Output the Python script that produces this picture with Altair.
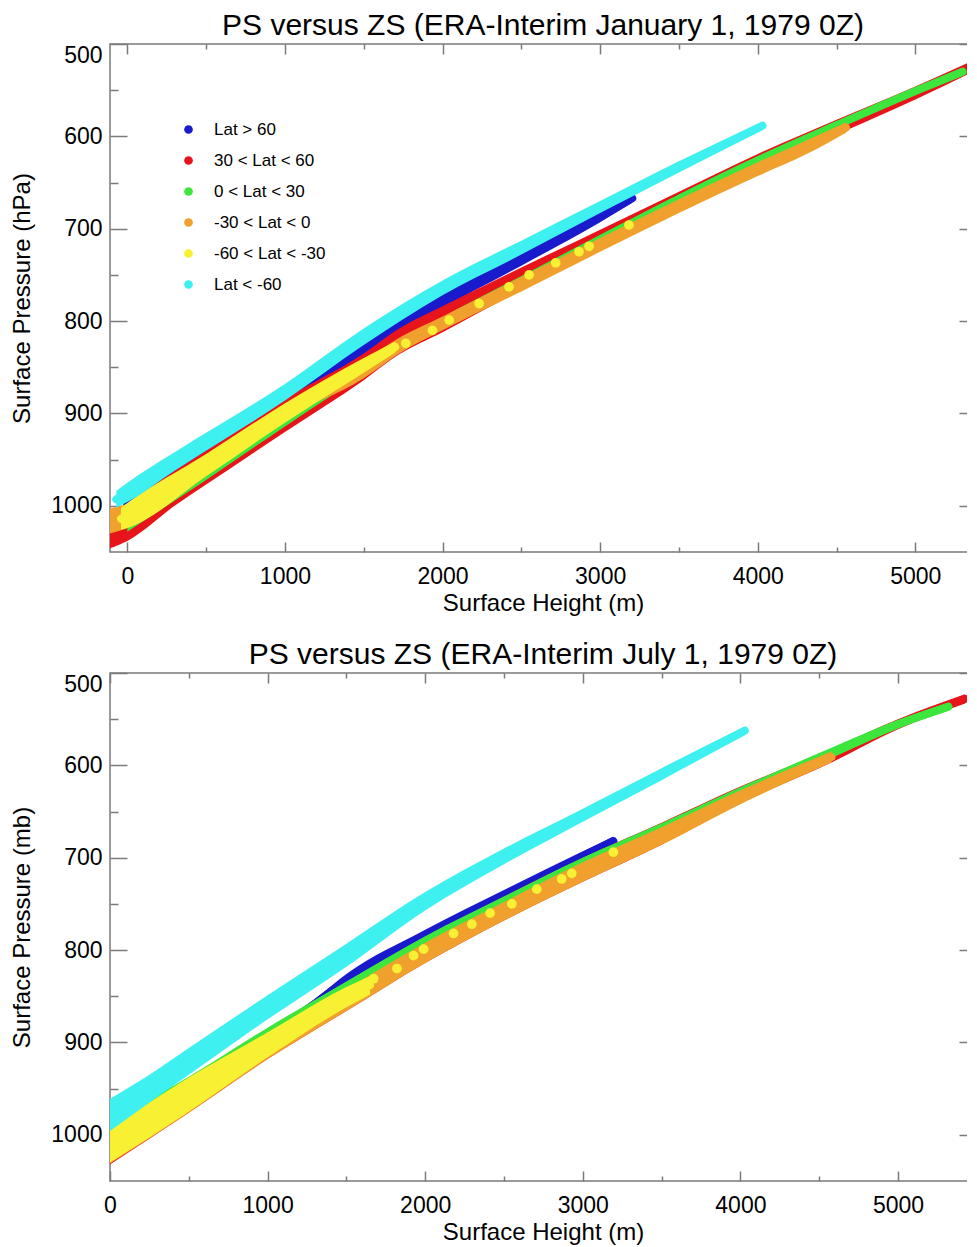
import altair as alt
import pandas as pd

FONT = "Liberation Sans"
SERIES = ["Lat > 60", "30 < Lat < 60", "0 < Lat < 30", "-30 < Lat < 0", "-60 < Lat < -30", "Lat < -60"]
COLORS = ["#1a1acd", "#e8141c", "#3ce63c", "#f0a02d", "#f8f032", "#3ef0f0"]

X_MAJOR = [0, 1000, 2000, 3000, 4000, 5000]
X_MINOR = [500, 1500, 2500, 3500, 4500]
Y_MAJOR = [500, 600, 700, 800, 900, 1000]
Y_MINOR = [550, 650, 750, 850, 950]

# ---------------- January 1, 1979 0Z : bands (height m, top / bottom of band in hPa)
JAN_BLUE_H = [0, 500, 1000, 1500, 2000, 2500, 3000, 3204]
JAN_BLUE_LO = [990, 934, 878, 822, 770, 726, 681, 662]
JAN_BLUE_HI = [1006, 950, 894, 838, 786, 740, 693, 672]

JAN_RED_H = [-110, 0, 300, 500, 1000, 1500, 1725, 2000, 2500, 3000, 3500, 4000, 4500, 5000, 5390]
JAN_RED_LO = [1022, 1000, 962, 940, 884, 835, 808, 784, 742, 701, 660, 619, 582, 546, 516]
JAN_RED_HI = [1046, 1038, 1000, 977, 920, 864, 836, 812, 766, 722, 678, 636, 598, 560, 528]

JAN_GREEN_H = [0, 500, 1000, 1500, 2000, 2500, 3000, 3500, 4000, 4500, 5000, 5300]
JAN_GREEN_LO = [1008, 955, 900, 846, 796, 752, 708, 664, 622, 584, 547, 526]
JAN_GREEN_HI = [1028, 972, 914, 858, 806, 760, 715, 671, 630, 592, 555, 534]

JAN_ORANGE_H = [-110, 0, 500, 1000, 1500, 1725, 2000, 2500, 3000, 3500, 4000, 4300, 4560]
JAN_ORANGE_LO = [1003, 998, 946, 892, 843, 818, 795, 752, 710, 668, 628, 605, 585]
JAN_ORANGE_HI = [1030, 1024, 968, 906, 862, 835, 810, 768, 725, 683, 643, 620, 596]

JAN_YELLOW_H = [-40, 0, 500, 1000, 1500, 1700]
JAN_YELLOW_LO = [1002, 997, 944, 889, 840, 822]
JAN_YELLOW_HI = [1026, 1024, 968, 910, 856, 834]

JAN_CYAN_H = [-70, 0, 300, 1000, 1500, 2000, 2500, 3000, 3500, 4030]
JAN_CYAN_LO = [984, 975, 942, 868, 808, 756, 713, 670, 627, 584]
JAN_CYAN_HI = [1002, 996, 962, 886, 826, 772, 728, 683, 639, 593]

JAN_YDOT_H = [1767, 1936, 2042, 2232, 2422, 2549, 2718, 2866, 2930, 3183]
JAN_YDOT_P = [824, 810, 799, 781, 763, 750, 737, 725, 719, 696]

# ---------------- July 1, 1979 0Z
JUL_BLUE_H = [800, 1300, 1500, 2000, 2500, 3000, 3194]
JUL_BLUE_LO = [908, 853, 826, 778, 735, 693, 677]
JUL_BLUE_HI = [916, 863, 839, 790, 747, 704, 687]

JUL_RED_H = [0, 500, 1000, 1500, 2000, 2500, 3000, 3500, 4000, 4578, 5000, 5425]
JUL_RED_LO = [992, 940, 886, 836, 786, 742, 700, 662, 623, 582, 550, 523]
JUL_RED_HI = [1032, 976, 918, 866, 814, 768, 726, 686, 641, 597, 561, 533]

JUL_GREEN_H = [150, 500, 1000, 1500, 2000, 2500, 3000, 3500, 4000, 4578, 5000, 5320]
JUL_GREEN_LO = [970, 937, 884, 834, 785, 742, 700, 663, 624, 581, 551, 532]
JUL_GREEN_HI = [984, 950, 896, 845, 796, 752, 710, 672, 633, 592, 560, 541]

JUL_ORANGE_H = [0, 500, 1000, 1500, 2000, 2500, 3000, 3500, 4000, 4578]
JUL_ORANGE_LO = [1000, 946, 893, 842, 792, 748, 705, 667, 627, 585]
JUL_ORANGE_HI = [1031, 976, 918, 866, 814, 768, 726, 686, 642, 597]

JUL_YELLOW_H = [0, 250, 500, 1000, 1500, 1650]
JUL_YELLOW_LO = [994, 965, 938, 889, 840, 828]
JUL_YELLOW_HI = [1030, 1003, 975, 916, 862, 848]

JUL_CYAN_H = [0, 250, 500, 1000, 1500, 2000, 2500, 3000, 3500, 4028]
JUL_CYAN_LO = [961, 935, 906, 849, 793, 737, 690, 647, 603, 558]
JUL_CYAN_HI = [996, 965, 935, 875, 818, 757, 707, 661, 616, 567]

JUL_YDOT_H = [1673, 1821, 1926, 1990, 2180, 2296, 2412, 2550, 2708, 2866, 2930, 3194]
JUL_YDOT_P = [831, 820, 806, 799, 782, 772, 760, 750, 734, 723, 717, 694]


def band(series, H, LO, HI):
    return pd.DataFrame({
        "series": series, "h": H, "lo": LO, "hi": HI,
        "mid": [(a + b) / 2 for a, b in zip(LO, HI)],
    })


JAN_BANDS = [
    band(SERIES[0], JAN_BLUE_H, JAN_BLUE_LO, JAN_BLUE_HI),
    band(SERIES[1], JAN_RED_H, JAN_RED_LO, JAN_RED_HI),
    band(SERIES[2], JAN_GREEN_H, JAN_GREEN_LO, JAN_GREEN_HI),
    band(SERIES[3], JAN_ORANGE_H, JAN_ORANGE_LO, JAN_ORANGE_HI),
    band(SERIES[4], JAN_YELLOW_H, JAN_YELLOW_LO, JAN_YELLOW_HI),
    band(SERIES[5], JAN_CYAN_H, JAN_CYAN_LO, JAN_CYAN_HI),
]
JUL_BANDS = [
    band(SERIES[0], JUL_BLUE_H, JUL_BLUE_LO, JUL_BLUE_HI),
    band(SERIES[1], JUL_RED_H, JUL_RED_LO, JUL_RED_HI),
    band(SERIES[2], JUL_GREEN_H, JUL_GREEN_LO, JUL_GREEN_HI),
    band(SERIES[3], JUL_ORANGE_H, JUL_ORANGE_LO, JUL_ORANGE_HI),
    band(SERIES[4], JUL_YELLOW_H, JUL_YELLOW_LO, JUL_YELLOW_HI),
    band(SERIES[5], JUL_CYAN_H, JUL_CYAN_LO, JUL_CYAN_HI),
]
JAN_DOTS = pd.DataFrame({"series": SERIES[4], "h": JAN_YDOT_H, "p": JAN_YDOT_P})
JUL_DOTS = pd.DataFrame({"series": SERIES[4], "h": JUL_YDOT_H, "p": JUL_YDOT_P})

FRAME = "#7a7a7a"
COLOR_SCALE = alt.Scale(domain=SERIES, range=COLORS)


def tick_axis(orient, values, size):
    return alt.Axis(orient=orient, values=values, tickSize=size, offset=-size,
                    ticks=True, labels=False, domain=False, grid=False, title=None,
                    tickColor=FRAME, tickWidth=1.5)


def panel(title, ytitle, xdom, bands, dots, legend):
    xs = alt.Scale(domain=xdom, nice=False, zero=False)
    ys = alt.Scale(domain=[500, 1050], reverse=True, nice=False, zero=False)
    if legend:
        leg = alt.Legend(title=None, orient="none", legendX=70, legendY=77,
                         symbolType="circle", symbolSize=75, symbolStrokeWidth=0,
                         symbolOpacity=1, labelFontSize=17, labelFont=FONT,
                         labelColor="black", rowPadding=13, labelOffset=17, padding=0)
    else:
        leg = None
    color = alt.Color("series:N", scale=COLOR_SCALE, legend=leg)
    layers = []
    for df in bands:
        area = alt.Chart(df).mark_area(clip=True, opacity=1, interpolate="monotone").encode(
            x=alt.X("h:Q", scale=xs, axis=None),
            y=alt.Y("lo:Q", scale=ys, axis=None, stack=None),
            y2="hi:Q",
            color=color,
        )
        line = alt.Chart(df).mark_line(clip=True, strokeWidth=8, strokeCap="round",
                                        strokeJoin="round", interpolate="monotone").encode(
            x=alt.X("h:Q", scale=xs, axis=None),
            y=alt.Y("mid:Q", scale=ys, axis=None),
            color=color,
        )
        layers += [area, line]
        if df["series"].iloc[0] == SERIES[4]:
            pts = alt.Chart(dots).mark_circle(size=95, opacity=1, clip=True).encode(
                x=alt.X("h:Q", scale=xs, axis=None),
                y=alt.Y("p:Q", scale=ys, axis=None),
                color=color,
            )
            layers.append(pts)

    anchor = pd.DataFrame({"h": [xdom[0]], "p": [1000]})
    main_axes = alt.Chart(anchor).mark_point(opacity=0).encode(
        x=alt.X("h:Q", scale=xs, axis=alt.Axis(
            orient="bottom", values=X_MAJOR, format="d", ticks=False, tickSize=0,
            domain=False, grid=False, labelFontSize=23, labelFont=FONT,
            labelColor="black", labelPadding=13, labelFlush=False,
            title="Surface Height (m)", titleFontSize=24, titleFont=FONT,
            titleFontWeight="normal", titleColor="black", titlePadding=3)),
        y=alt.Y("p:Q", scale=ys, axis=alt.Axis(
            orient="left", values=Y_MAJOR, format="d", ticks=False, tickSize=0,
            domain=False, grid=False, labelFontSize=23, labelFont=FONT,
            labelColor="black", labelPadding=8, labelFlush=True, title=ytitle,
            titleFontSize=24, titleFont=FONT, titleFontWeight="normal",
            titleColor="black", titlePadding=16)),
    )
    layers.append(main_axes)
    for xo, yo, xv, yv, xsz, ysz in [
        ("bottom", "left", X_MAJOR, Y_MAJOR, 10, 17),
        ("top", "right", X_MAJOR, Y_MAJOR, 10, 17),
        ("bottom", "left", X_MINOR, Y_MINOR, 5, 8),
        ("top", "right", X_MINOR, Y_MINOR, 5, 8),
    ]:
        layers.append(alt.Chart(anchor).mark_point(opacity=0).encode(
            x=alt.X("h:Q", scale=xs, axis=tick_axis(xo, xv, xsz)),
            y=alt.Y("p:Q", scale=ys, axis=tick_axis(yo, yv, ysz)),
        ))

    return alt.layer(*layers).resolve_axis(x="independent", y="independent").properties(
        width=866, height=508,
        title=alt.TitleParams(title, fontSize=30, font=FONT, fontWeight="normal",
                              color="black", anchor="middle", offset=2),
    )


top = panel("PS versus ZS (ERA-Interim January 1, 1979 0Z)", "Surface Pressure (hPa)",
            [-110, 5385], JAN_BANDS, JAN_DOTS, True)
bottom = panel("PS versus ZS (ERA-Interim July 1, 1979 0Z)", "Surface Pressure (mb)",
               [0, 5495], JUL_BANDS, JUL_DOTS, False)

chart = alt.vconcat(top, bottom, spacing=23).resolve_legend(color="independent").configure(
    font=FONT, padding={"left": 2, "top": 2, "right": -11, "bottom": 0}, background="white"
).configure_view(stroke=FRAME, strokeWidth=1.5)

chart.save("out.html", embed_options={"renderer": "svg", "actions": False})
